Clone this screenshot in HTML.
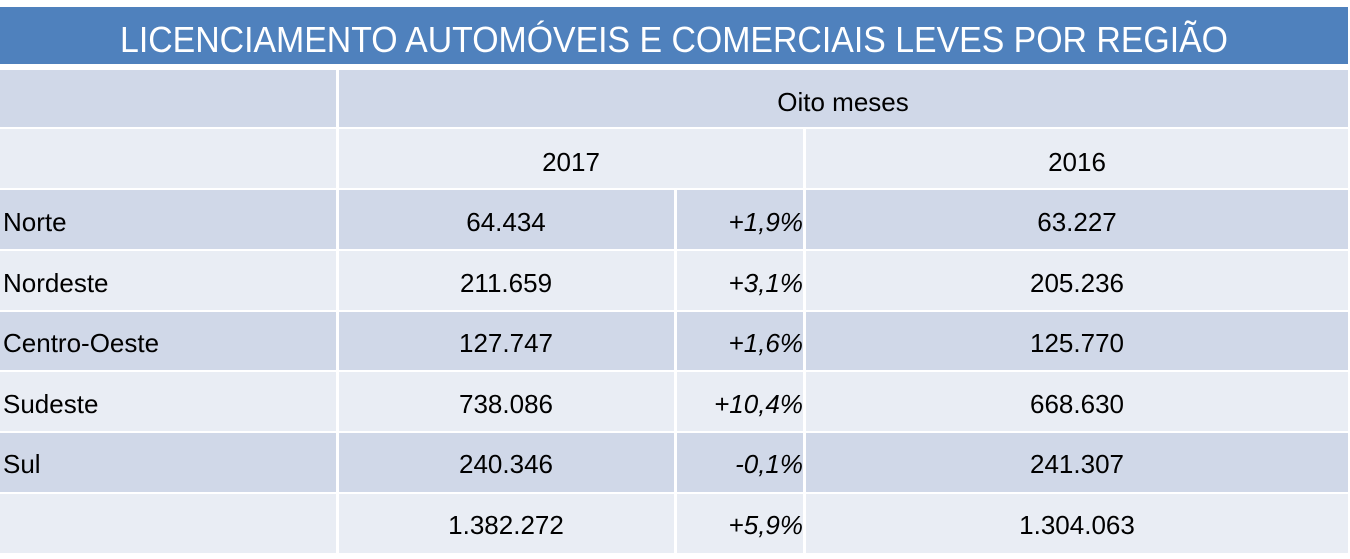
<!DOCTYPE html>
<html>
<head>
<meta charset="utf-8">
<style>
  html, body { margin: 0; padding: 0; background: #ffffff; }
  svg { display: block; }
  text { font-family: "Liberation Sans", "DejaVu Sans", sans-serif; fill: #000000; }
  .t { font-size: 26px; }
  .c { text-anchor: middle; }
  .r { text-anchor: end; font-style: italic; }
  .title { font-size: 36px; fill: #ffffff; text-anchor: middle; }
</style>
</head>
<body>
<svg width="1350" height="559" viewBox="0 0 1350 559" xmlns="http://www.w3.org/2000/svg">
  <rect x="0" y="0" width="1350" height="559" fill="#ffffff"/>
  <!-- Title bar -->
  <rect x="0" y="7" width="1348" height="57" fill="#4F81BD"/>
  <text class="title" x="674" y="52" textLength="1108" lengthAdjust="spacingAndGlyphs">LICENCIAMENTO AUTOMÓVEIS E COMERCIAIS LEVES POR REGIÃO</text>

  <!-- Row 0 -->
  <rect x="0" y="70" width="336" height="57" fill="#D0D8E8"/>
  <rect x="339" y="70" width="1009" height="57" fill="#D0D8E8"/>
  <text class="t c" x="843" y="111">Oito meses</text>

  <!-- Row 1 -->
  <rect x="0" y="129" width="336" height="59" fill="#E9EDF4"/>
  <rect x="339" y="129" width="464" height="59" fill="#E9EDF4"/>
  <rect x="806" y="129" width="542" height="59" fill="#E9EDF4"/>
  <text class="t c" x="571" y="171">2017</text>
  <text class="t c" x="1077" y="171">2016</text>

  <!-- Row 2 Norte -->
  <rect x="0" y="190" width="336" height="59" fill="#D0D8E8"/>
  <rect x="339" y="190" width="335" height="59" fill="#D0D8E8"/>
  <rect x="677" y="190" width="126" height="59" fill="#D0D8E8"/>
  <rect x="806" y="190" width="542" height="59" fill="#D0D8E8"/>
  <text class="t" x="3" y="231">Norte</text>
  <text class="t c" x="506" y="231">64.434</text>
  <text class="t r" x="803" y="231">+1,9%</text>
  <text class="t c" x="1077" y="231">63.227</text>

  <!-- Row 3 Nordeste -->
  <rect x="0" y="251" width="336" height="59" fill="#E9EDF4"/>
  <rect x="339" y="251" width="335" height="59" fill="#E9EDF4"/>
  <rect x="677" y="251" width="126" height="59" fill="#E9EDF4"/>
  <rect x="806" y="251" width="542" height="59" fill="#E9EDF4"/>
  <text class="t" x="3" y="292">Nordeste</text>
  <text class="t c" x="506" y="292">211.659</text>
  <text class="t r" x="803" y="292">+3,1%</text>
  <text class="t c" x="1077" y="292">205.236</text>

  <!-- Row 4 Centro-Oeste -->
  <rect x="0" y="312" width="336" height="58" fill="#D0D8E8"/>
  <rect x="339" y="312" width="335" height="58" fill="#D0D8E8"/>
  <rect x="677" y="312" width="126" height="58" fill="#D0D8E8"/>
  <rect x="806" y="312" width="542" height="58" fill="#D0D8E8"/>
  <text class="t" x="3" y="352">Centro-Oeste</text>
  <text class="t c" x="506" y="352">127.747</text>
  <text class="t r" x="803" y="352">+1,6%</text>
  <text class="t c" x="1077" y="352">125.770</text>

  <!-- Row 5 Sudeste -->
  <rect x="0" y="372" width="336" height="59" fill="#E9EDF4"/>
  <rect x="339" y="372" width="335" height="59" fill="#E9EDF4"/>
  <rect x="677" y="372" width="126" height="59" fill="#E9EDF4"/>
  <rect x="806" y="372" width="542" height="59" fill="#E9EDF4"/>
  <text class="t" x="3" y="413">Sudeste</text>
  <text class="t c" x="506" y="413">738.086</text>
  <text class="t r" x="803" y="413">+10,4%</text>
  <text class="t c" x="1077" y="413">668.630</text>

  <!-- Row 6 Sul -->
  <rect x="0" y="433" width="336" height="59" fill="#D0D8E8"/>
  <rect x="339" y="433" width="335" height="59" fill="#D0D8E8"/>
  <rect x="677" y="433" width="126" height="59" fill="#D0D8E8"/>
  <rect x="806" y="433" width="542" height="59" fill="#D0D8E8"/>
  <text class="t" x="3" y="473">Sul</text>
  <text class="t c" x="506" y="473">240.346</text>
  <text class="t r" x="803" y="473">-0,1%</text>
  <text class="t c" x="1077" y="473">241.307</text>

  <!-- Row 7 Total -->
  <rect x="0" y="494" width="336" height="59" fill="#E9EDF4"/>
  <rect x="339" y="494" width="335" height="59" fill="#E9EDF4"/>
  <rect x="677" y="494" width="126" height="59" fill="#E9EDF4"/>
  <rect x="806" y="494" width="542" height="59" fill="#E9EDF4"/>
  <text class="t c" x="506" y="534">1.382.272</text>
  <text class="t r" x="803" y="534">+5,9%</text>
  <text class="t c" x="1077" y="534">1.304.063</text>
</svg>
</body>
</html>
